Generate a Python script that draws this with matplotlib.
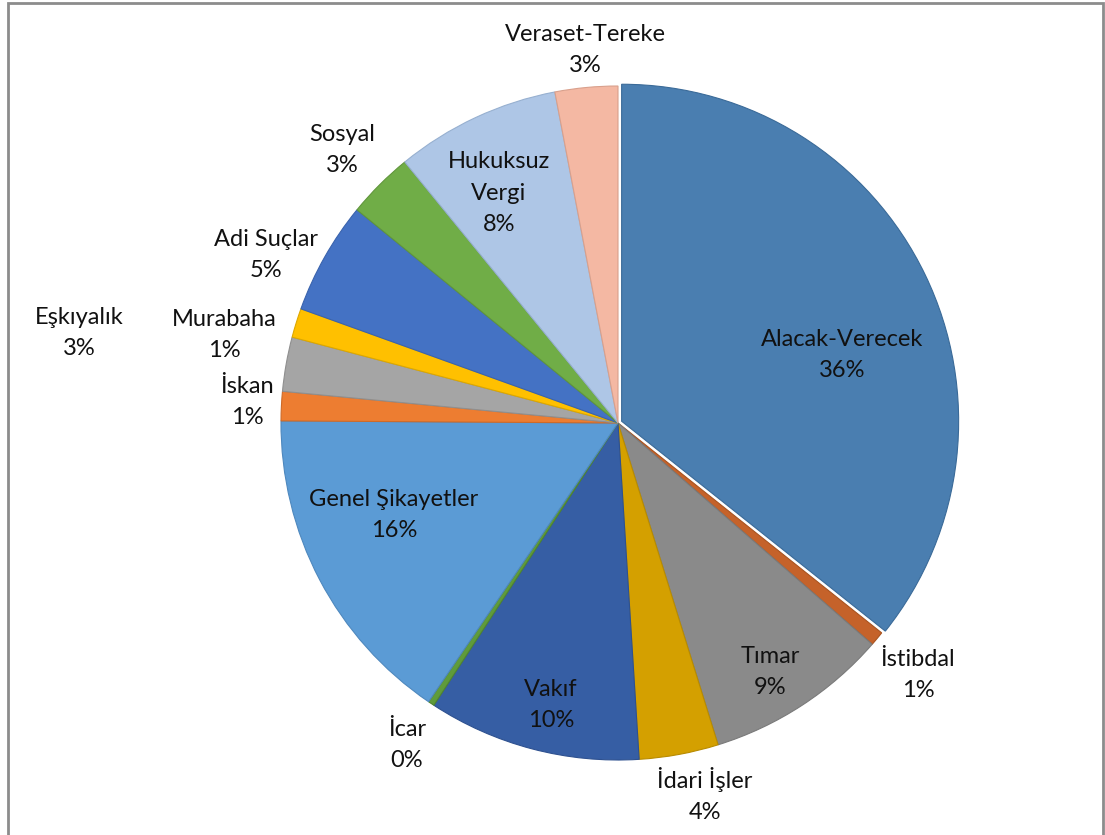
import matplotlib
matplotlib.use("Agg")
import matplotlib.pyplot as plt
from matplotlib.patches import Rectangle

categories = ["Alacak-Verecek", "İstibdal", "Tımar", "İdari İşler", "Vakıf", "İcar",
              "Genel Şikayetler", "İskan", "Eşkıyalık", "Murabaha", "Adi Suçlar",
              "Sosyal", "Hukuksuz\nVergi", "Veraset-Tereke"]
shares = [35.7, 0.7, 8.8, 3.8, 10.2, 0.3, 15.6, 1.4, 2.6, 1.4, 5.4, 3.2, 7.9, 3.0]

colors = ["#4A7EB0", "#C5622A", "#8A8A8A", "#D4A000", "#365EA4", "#5F9B3A",
          "#5B9BD5", "#ED7D31", "#A5A5A5", "#FFC000", "#4472C4", "#70AD47",
          "#AEC6E6", "#F4B8A3"]
edgecolors = ["#3F6E9C", "#A9531F", "#7A7A7A", "#B88B00", "#2E5190", "#4F8530",
              "#4E88BE", "#CE6A28", "#8F8F8F", "#DDA800", "#3A63AD", "#60963B",
              "#97B0D0", "#D9A08C"]
# label centres in pie-radius units (layout)
label_pos = [(0.665, 0.202), (0.890, -0.748), (0.451, -0.739), (0.258, -1.104),
             (-0.199, -0.837), (-0.626, -0.955), (-0.665, -0.273), (-1.101, 0.062),
             (-1.599, 0.267), (-1.169, 0.261), (-1.045, 0.499), (-0.819, 0.810),
             (-0.353, 0.682), (-0.098, 1.107)]
explode = [0.012] + [0.0] * 13

plt.rcParams['font.family'] = ['Lato', 'DejaVu Sans']

W, H = 1105, 835
fig = plt.figure(figsize=(W / 100, H / 100), dpi=100)
ax = fig.add_axes([0, 0, 1, 1])
cx, cy, R = 618, 423, 337

wedges, _ = ax.pie(shares, colors=colors, startangle=90, counterclock=False,
                   explode=explode, radius=1.0,
                   wedgeprops=dict(linewidth=0.8))
for w, ec in zip(wedges, edgecolors):
    w.set_edgecolor(ec)
wedges[0].set_edgecolor("#3A6A98")

ax.set_xlim(-cx / R, (W - cx) / R)
ax.set_ylim(-(H - cy) / R, cy / R)
ax.set_aspect('equal')
ax.axis('off')

total = sum(shares)
for name, v, (x, y) in zip(categories, shares, label_pos):
    ax.text(x, y, f"{name}\n{round(v / total * 100)}%", ha='center', va='center',
            fontsize=17, color='#111111', linespacing=1.6)

fig.patches.append(Rectangle((8 / W, -0.1), (1103 - 8) / W, 1.1 - 3 / H,
                             transform=fig.transFigure, fill=False,
                             edgecolor='#8C8C8C', linewidth=2))

fig.savefig("out.png", dpi=100)
